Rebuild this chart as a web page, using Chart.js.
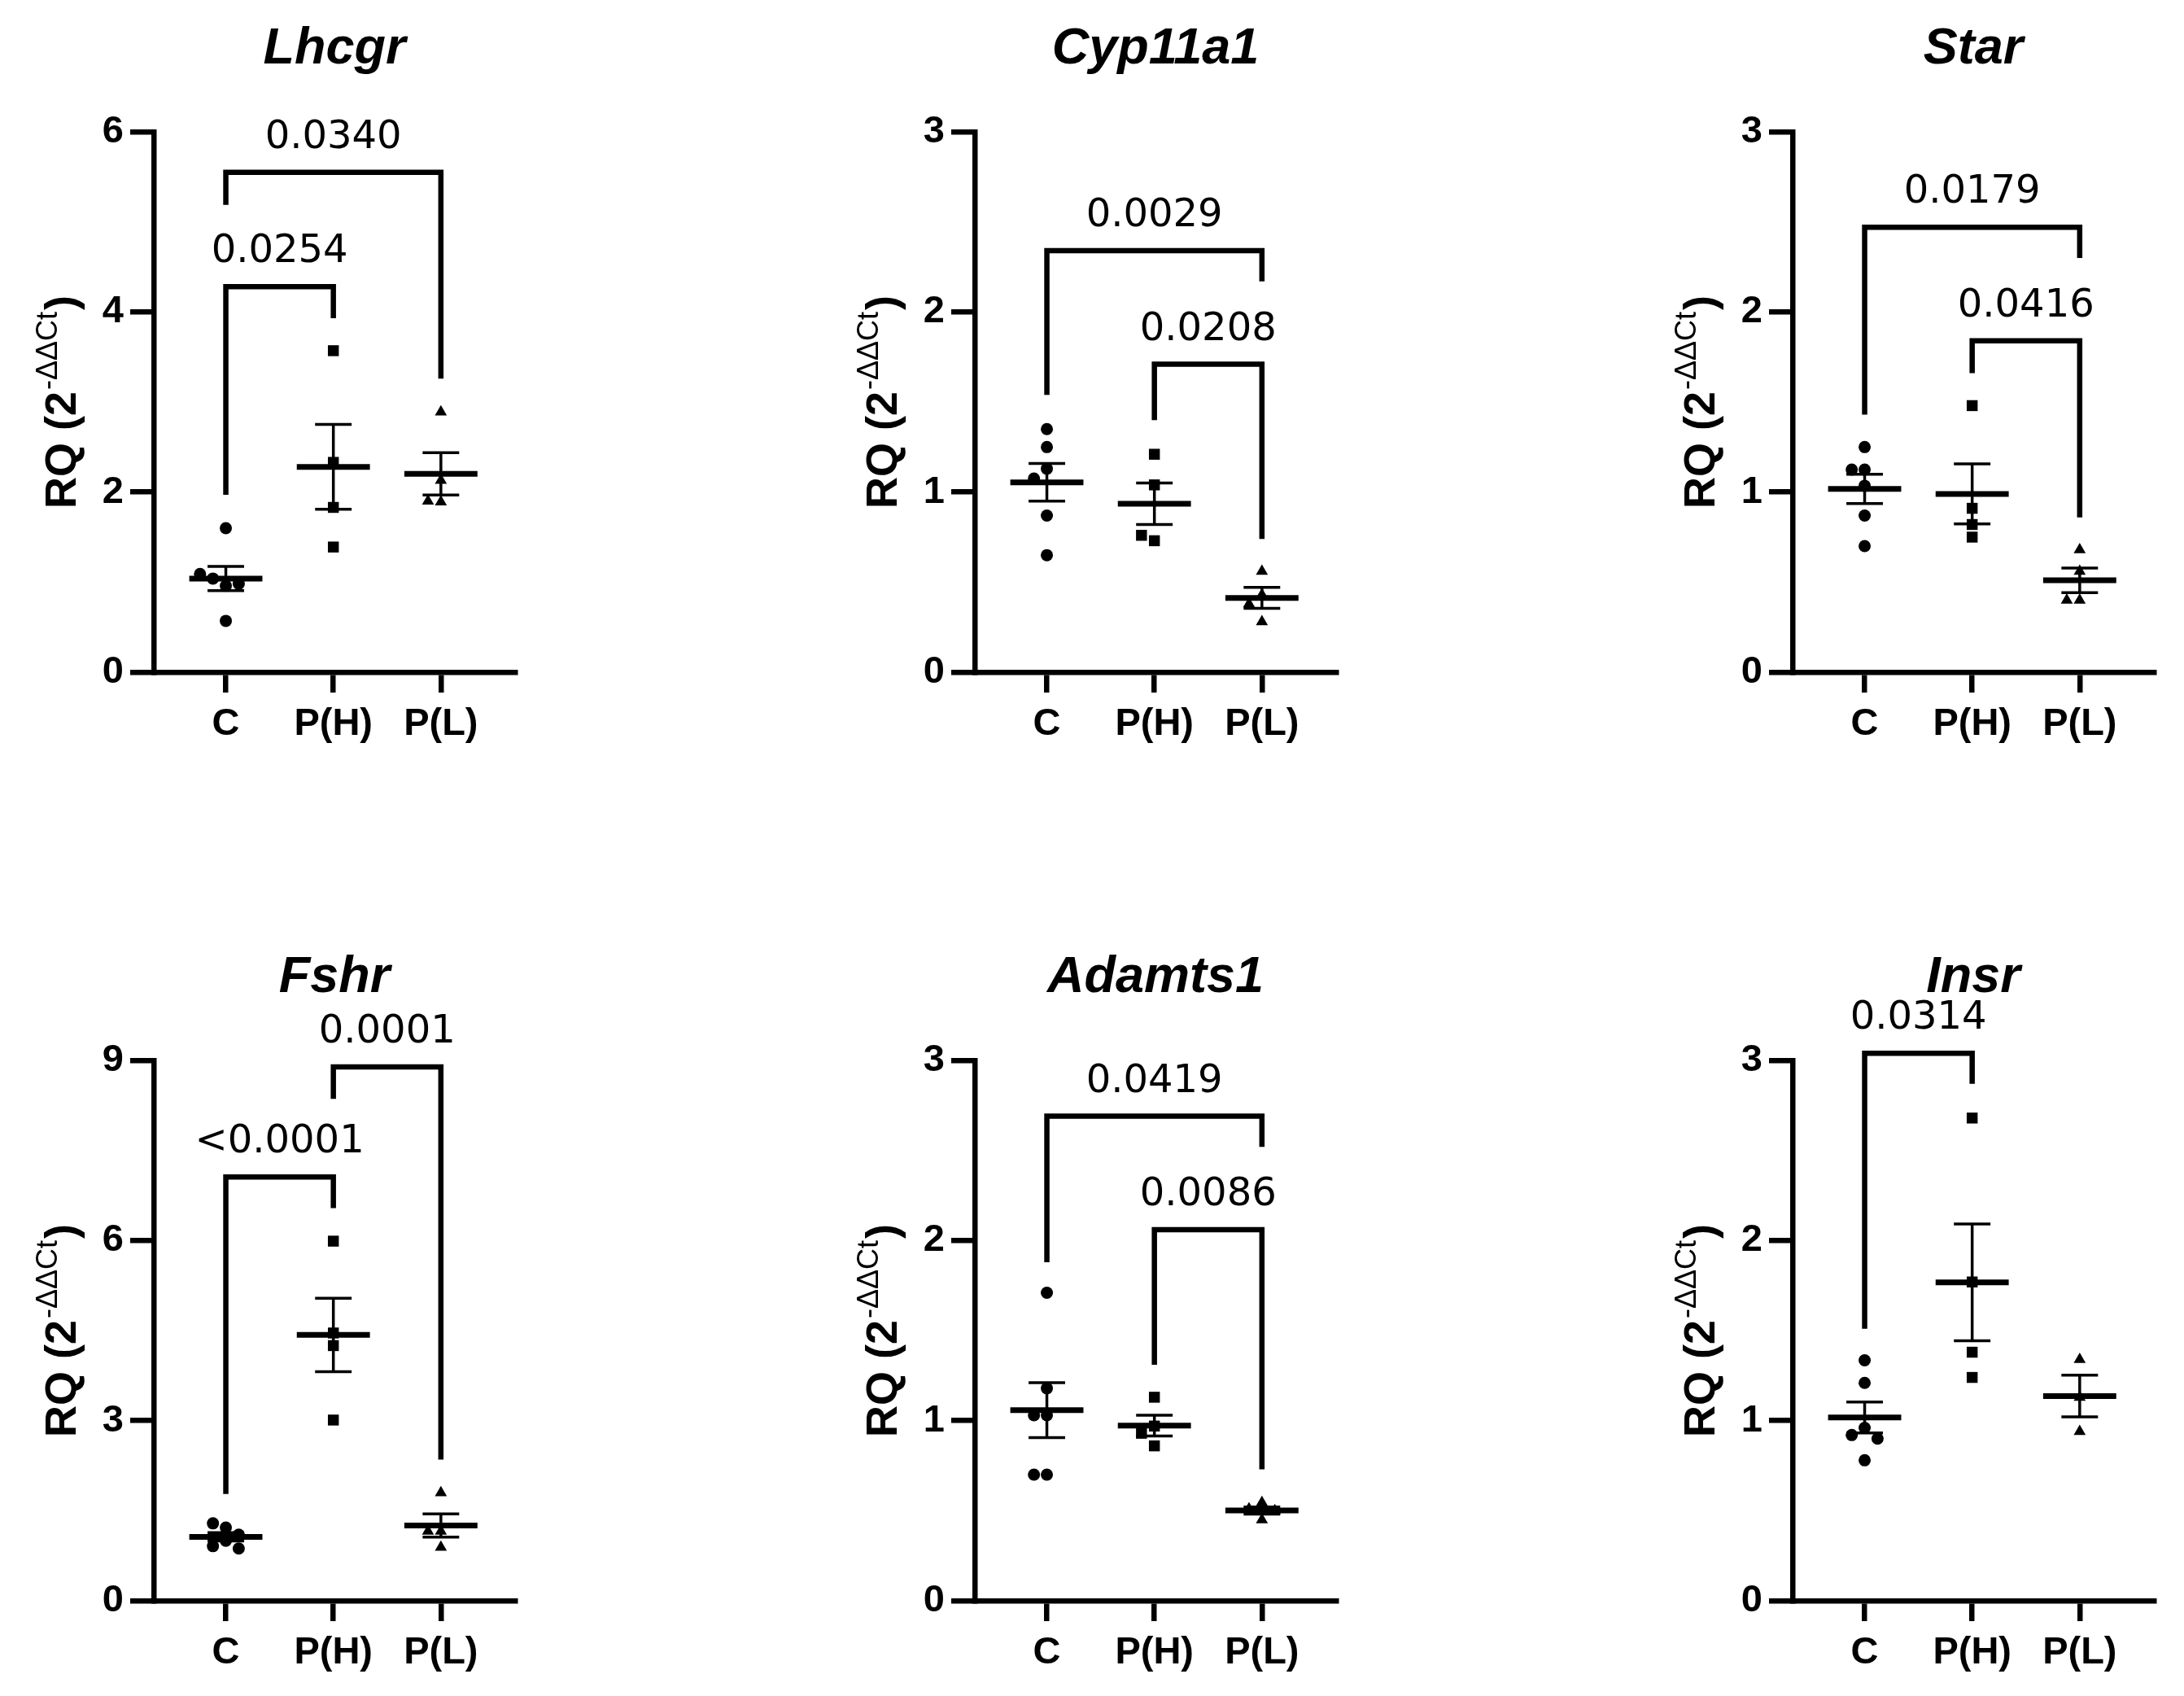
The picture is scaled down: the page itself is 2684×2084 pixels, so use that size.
<!DOCTYPE html>
<html><head><meta charset="utf-8">
<script src="https://cdn.jsdelivr.net/npm/chart.js@4.4.1/dist/chart.umd.min.js"></script>
<style>
html,body{margin:0;padding:0;background:#fff;width:2684px;height:2084px;overflow:hidden;position:relative}
canvas{position:absolute}
</style></head><body>
<script>
// ---------- DATA ----------
const groups = ['C', 'P(H)', 'P(L)'];
const genes = ['Lhcgr', 'Cyp11a1', 'Star', 'Fshr', 'Adamts1', 'Insr'];
const yMaxes = [6, 3, 3, 9, 3, 3];

const lhcgrC  = [1.60, 0.96, 1.04, 0.98, 1.09, 0.57];
const lhcgrPH = [3.57, 2.33, 1.83, 1.39];
const lhcgrPL = [2.89, 2.13, 1.89, 1.90];

const cypC  = [1.35, 1.25, 1.13, 1.075, 0.87, 0.65];
const cypPH = [1.21, 1.04, 0.73, 0.76];
const cypPL = [0.56, 0.43, 0.38, 0.28];

const starC  = [1.25, 1.125, 1.125, 1.035, 0.87, 0.70];
const starPH = [1.48, 0.91, 0.82, 0.75];
const starPL = [0.68, 0.56, 0.40, 0.40];

const fshrC  = [1.00, 1.22, 1.29, 1.10, 0.91, 0.87];
const fshrPH = [5.99, 4.46, 4.25, 3.01];
const fshrPL = [1.80, 1.16, 1.16, 0.89];

const adamC  = [1.71, 1.18, 1.03, 1.03, 0.70, 0.70];
const adamPH = [1.13, 0.97, 0.93, 0.86];
const adamPL = [0.545, 0.51, 0.50, 0.45];

const insrC  = [1.335, 1.21, 0.96, 0.92, 0.90, 0.78];
const insrPH = [2.68, 1.77, 1.38, 1.24];
const insrPL = [1.34, 1.13, 0.94];

// significance: [groupA, groupB, bar height, legA end, legB end, p label]
const lhcgrSig = [[1, 2, 4.28, 1.97, 3.93, '0.0254'], [1, 3, 5.55, 5.19, 3.26, '0.0340']];
const cypSig   = [[1, 3, 2.34, 1.54, 2.17, '0.0029'], [2, 3, 1.71, 1.40, 0.74, '0.0208']];
const starSig  = [[1, 3, 2.47, 1.43, 2.30, '0.0179'], [2, 3, 1.84, 1.66, 0.86, '0.0416']];
const fshrSig  = [[1, 2, 7.06, 1.78, 6.54, '<0.0001'], [2, 3, 8.89, 8.36, 2.35, '0.0001']];
const adamSig  = [[1, 3, 2.69, 1.88, 2.52, '0.0419'], [2, 3, 2.06, 1.31, 0.73, '0.0086']];
const insrSig  = [[1, 2, 3.04, 1.51, 2.87, '0.0314']];

const panelSeries = [
  [lhcgrC, lhcgrPH, lhcgrPL],
  [cypC, cypPH, cypPL],
  [starC, starPH, starPL],
  [fshrC, fshrPH, fshrPL],
  [adamC, adamPH, adamPL],
  [insrC, insrPH, insrPL]
];
const panelSig = [lhcgrSig, cypSig, starSig, fshrSig, adamSig, insrSig];

// ---------- LAYOUT ----------
const colLeft = [0, 1009, 2014];
const rowTop = [0, 1141];
const CW = 670, CH = 940;

// simple beeswarm spreading of overlapping markers (category units)
function swarm(vals, center, M) {
  const pxX = 132, pxY = 664 / M, d = 15, step = 0.12;
  const placed = [];
  return vals.map(v => {
    let chosen = 0;
    for (const k of [0, -1, 1, -2, 2, -3, 3]) {
      const off = k * step;
      if (placed.every(p => Math.hypot((p.off - off) * pxX, (p.v - v) * pxY) >= d)) { chosen = off; break; }
    }
    placed.push({ v, off: chosen });
    return { x: center + chosen, y: v };
  });
}

const annot = {
  id: 'annot',
  afterDatasetsDraw(chart, args, opts) {
    const { ctx, chartArea: ca } = chart;
    const x = chart.scales.x, y = chart.scales.y;
    const line = (x1, y1, x2, y2) => { ctx.beginPath(); ctx.moveTo(x1, y1); ctx.lineTo(x2, y2); ctx.stroke(); };
    ctx.save();
    ctx.strokeStyle = '#000'; ctx.fillStyle = '#000';
    // mean +/- SEM
    opts.series.forEach((vals, g) => {
      const n = vals.length;
      const m = vals.reduce((a, b) => a + b, 0) / n;
      const sd = Math.sqrt(vals.reduce((a, b) => a + (b - m) ** 2, 0) / (n - 1));
      const se = sd / Math.sqrt(n);
      const cx = x.getPixelForValue(g + 1);
      const hw = x.getPixelForValue(g + 1 + 0.34) - cx;
      const cw = x.getPixelForValue(g + 1 + 0.17) - cx;
      const yt = y.getPixelForValue(m + se), yb = y.getPixelForValue(m - se), ym = y.getPixelForValue(m);
      ctx.lineCap = 'butt';
      ctx.lineWidth = 3.5;
      line(cx, yt, cx, yb);
      line(cx - cw, yt, cx + cw, yt);
      line(cx - cw, yb, cx + cw, yb);
      ctx.lineWidth = 7;
      line(cx - hw, ym, cx + hw, ym);
    });
    // significance brackets
    opts.sig.forEach(([a, b, yv, la, lb, label]) => {
      const xa = x.getPixelForValue(a), xb = x.getPixelForValue(b), Y = y.getPixelForValue(yv);
      ctx.lineWidth = 6.5; ctx.lineJoin = 'miter'; ctx.lineCap = 'butt';
      ctx.beginPath();
      ctx.moveTo(xa, y.getPixelForValue(la)); ctx.lineTo(xa, Y); ctx.lineTo(xb, Y); ctx.lineTo(xb, y.getPixelForValue(lb));
      ctx.stroke();
      ctx.font = '48px "DejaVu Sans"'; ctx.textAlign = 'center'; ctx.textBaseline = 'alphabetic';
      ctx.fillText(label, (xa + xb) / 2, Y - 30);
    });
    // panel title
    ctx.font = 'italic bold 63px "Liberation Sans"';
    ctx.textAlign = 'center'; ctx.textBaseline = 'alphabetic';
    ctx.fillText(opts.title, (ca.left + ca.right) / 2, ca.top - 84);
    // y-axis title RQ (2^-ΔΔCt)
    const cy = (ca.top + ca.bottom) / 2;
    const fBig = 'bold 54px "Liberation Sans"', fSup = '36px "Liberation Sans"';
    const p1 = 'RQ (2', p2 = '-\u0394\u0394Ct', p3 = ')';
    ctx.font = fBig; const w1 = ctx.measureText(p1).width, w3 = ctx.measureText(p3).width;
    ctx.font = fSup; const w2 = ctx.measureText(p2).width;
    const tot = w1 + w2 + w3 + 4;
    ctx.translate(93, cy); ctx.rotate(-Math.PI / 2);
    ctx.textAlign = 'left';
    let px = -tot / 2;
    ctx.font = fBig; ctx.fillText(p1, px, 0); px += w1 + 2;
    ctx.font = fSup; ctx.fillText(p2, px, -23); px += w2 + 2;
    ctx.font = fBig; ctx.fillText(p3, px, 0);
    ctx.restore();
  }
};
Chart.register(annot);

const markerStyles = ['circle', 'rect', 'triangle'];
const markerRadii = [7.5, 9.5, 8.5];

panelSeries.forEach((series, idx) => {
  const M = yMaxes[idx];
  const cv = document.createElement('canvas');
  cv.width = CW; cv.height = CH;
  cv.style.width = CW + 'px'; cv.style.height = CH + 'px';
  cv.style.left = colLeft[idx % 3] + 'px';
  cv.style.top = rowTop[Math.floor(idx / 3)] + 'px';
  document.body.appendChild(cv);
  new Chart(cv, {
    type: 'scatter',
    data: {
      datasets: series.map((vals, g) => ({
        data: swarm(vals, g + 1, M),
        pointStyle: markerStyles[g],
        pointRadius: markerRadii[g],
        pointHoverRadius: markerRadii[g],
        backgroundColor: '#000', borderColor: '#000', borderWidth: 0,
        showLine: false, clip: false
      }))
    },
    options: {
      responsive: false, animation: false, devicePixelRatio: 1,
      events: [],
      layout: { padding: { left: 0, top: 162, right: 37, bottom: 0 } },
      plugins: {
        legend: { display: false }, tooltip: { enabled: false },
        annot: { series: series, sig: panelSig[idx], title: genes[idx] }
      },
      scales: {
        x: {
          type: 'linear', min: 0.33, max: 3.69,
          afterBuildTicks: s => { s.ticks = [1, 2, 3].map(v => ({ value: v })); },
          afterFit: s => { s.height = 114; },
          ticks: { callback: v => groups[v - 1], font: { family: '"Liberation Sans"', size: 47, weight: 'bold' }, color: '#000', padding: 11, maxRotation: 0, autoSkip: false },
          grid: { display: true, drawOnChartArea: false, drawTicks: true, tickLength: 25, lineWidth: 6.5, color: '#000' },
          border: { display: true, width: 6.5, color: '#000' }
        },
        y: {
          min: 0, max: M,
          afterBuildTicks: s => { s.ticks = [0, 1, 2, 3].map(i => ({ value: i * M / 3 })); },
          afterFit: s => { s.width = 189; },
          ticks: { font: { family: '"Liberation Sans"', size: 47, weight: 'bold' }, color: '#000', padding: 8 },
          grid: { display: true, drawOnChartArea: false, drawTicks: true, tickLength: 29, lineWidth: 6.5, color: '#000' },
          border: { display: true, width: 6.5, color: '#000' }
        }
      }
    }
  });
});
</script>
</body></html>
